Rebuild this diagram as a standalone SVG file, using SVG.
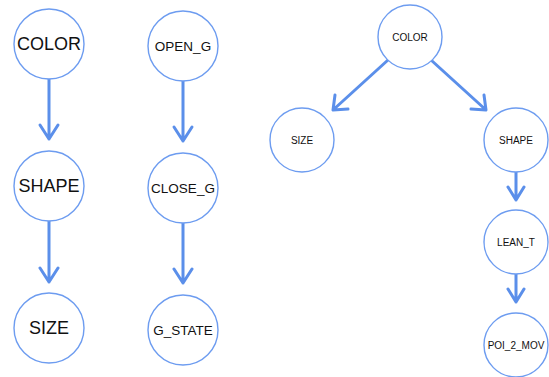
<svg xmlns="http://www.w3.org/2000/svg" width="549" height="377" viewBox="0 0 549 377">
<style>
.n circle{fill:#fff;stroke:#6d9cf0;stroke-width:1.4}
.n text{font-family:"Liberation Sans",Arial,sans-serif;fill:#111;text-anchor:middle;dominant-baseline:central}
.big text{font-size:18px}
.mid text{font-size:13.5px}
.sm text{font-size:10px}
.e{stroke:#5b8fea;stroke-width:3;fill:none;stroke-linecap:round;stroke-linejoin:round}
</style>
<rect width="549" height="377" fill="#fff"/>
<g id="connectors">
<path class="e" d="M49 79V139M40 125L49 139L58 125"/>
<path class="e" d="M49 221V282M40 268L49 282L58 268"/>
<path class="e" d="M183 81V141M174 127L183 141L192 127"/>
<path class="e" d="M183 223V283M174 269L183 283L192 269"/>
<path class="e" d="M388 60L333 110M335 95L333 110L348 109"/>
<path class="e" d="M431 60L486 110M471 109L486 110L484 95"/>
<path class="e" d="M516 171V200M508 187L516 200L524 187"/>
<path class="e" d="M516 273V302M508 289L516 302L524 289"/>
</g>
<g id="n-color1" class="n big"><circle cx="49" cy="44" r="35"/><text x="49" y="44">COLOR</text></g>
<g id="n-shape1" class="n big"><circle cx="49" cy="186" r="35"/><text x="49" y="186">SHAPE</text></g>
<g id="n-size1" class="n big"><circle cx="49" cy="328" r="35"/><text x="49" y="328">SIZE</text></g>
<g id="n-open_g" class="n mid"><circle cx="183" cy="46" r="35"/><text x="183" y="46">OPEN_G</text></g>
<g id="n-close_g" class="n mid"><circle cx="183" cy="188" r="35"/><text x="183" y="188">CLOSE_G</text></g>
<g id="n-g_state" class="n mid"><circle cx="183" cy="330" r="35"/><text x="183" y="330">G_STATE</text></g>
<g id="n-color2" class="n sm"><circle cx="410" cy="37" r="32"/><text x="410" y="37">COLOR</text></g>
<g id="n-size2" class="n sm"><circle cx="302" cy="140" r="32"/><text x="302" y="140">SIZE</text></g>
<g id="n-shape2" class="n sm"><circle cx="516" cy="140" r="32"/><text x="516" y="140">SHAPE</text></g>
<g id="n-lean_t" class="n sm"><circle cx="516" cy="242" r="32"/><text x="516" y="242">LEAN_T</text></g>
<g id="n-poi_2_mov" class="n sm"><circle cx="516" cy="345" r="32"/><text x="516" y="345">POI_2_MOV</text></g>
</svg>
